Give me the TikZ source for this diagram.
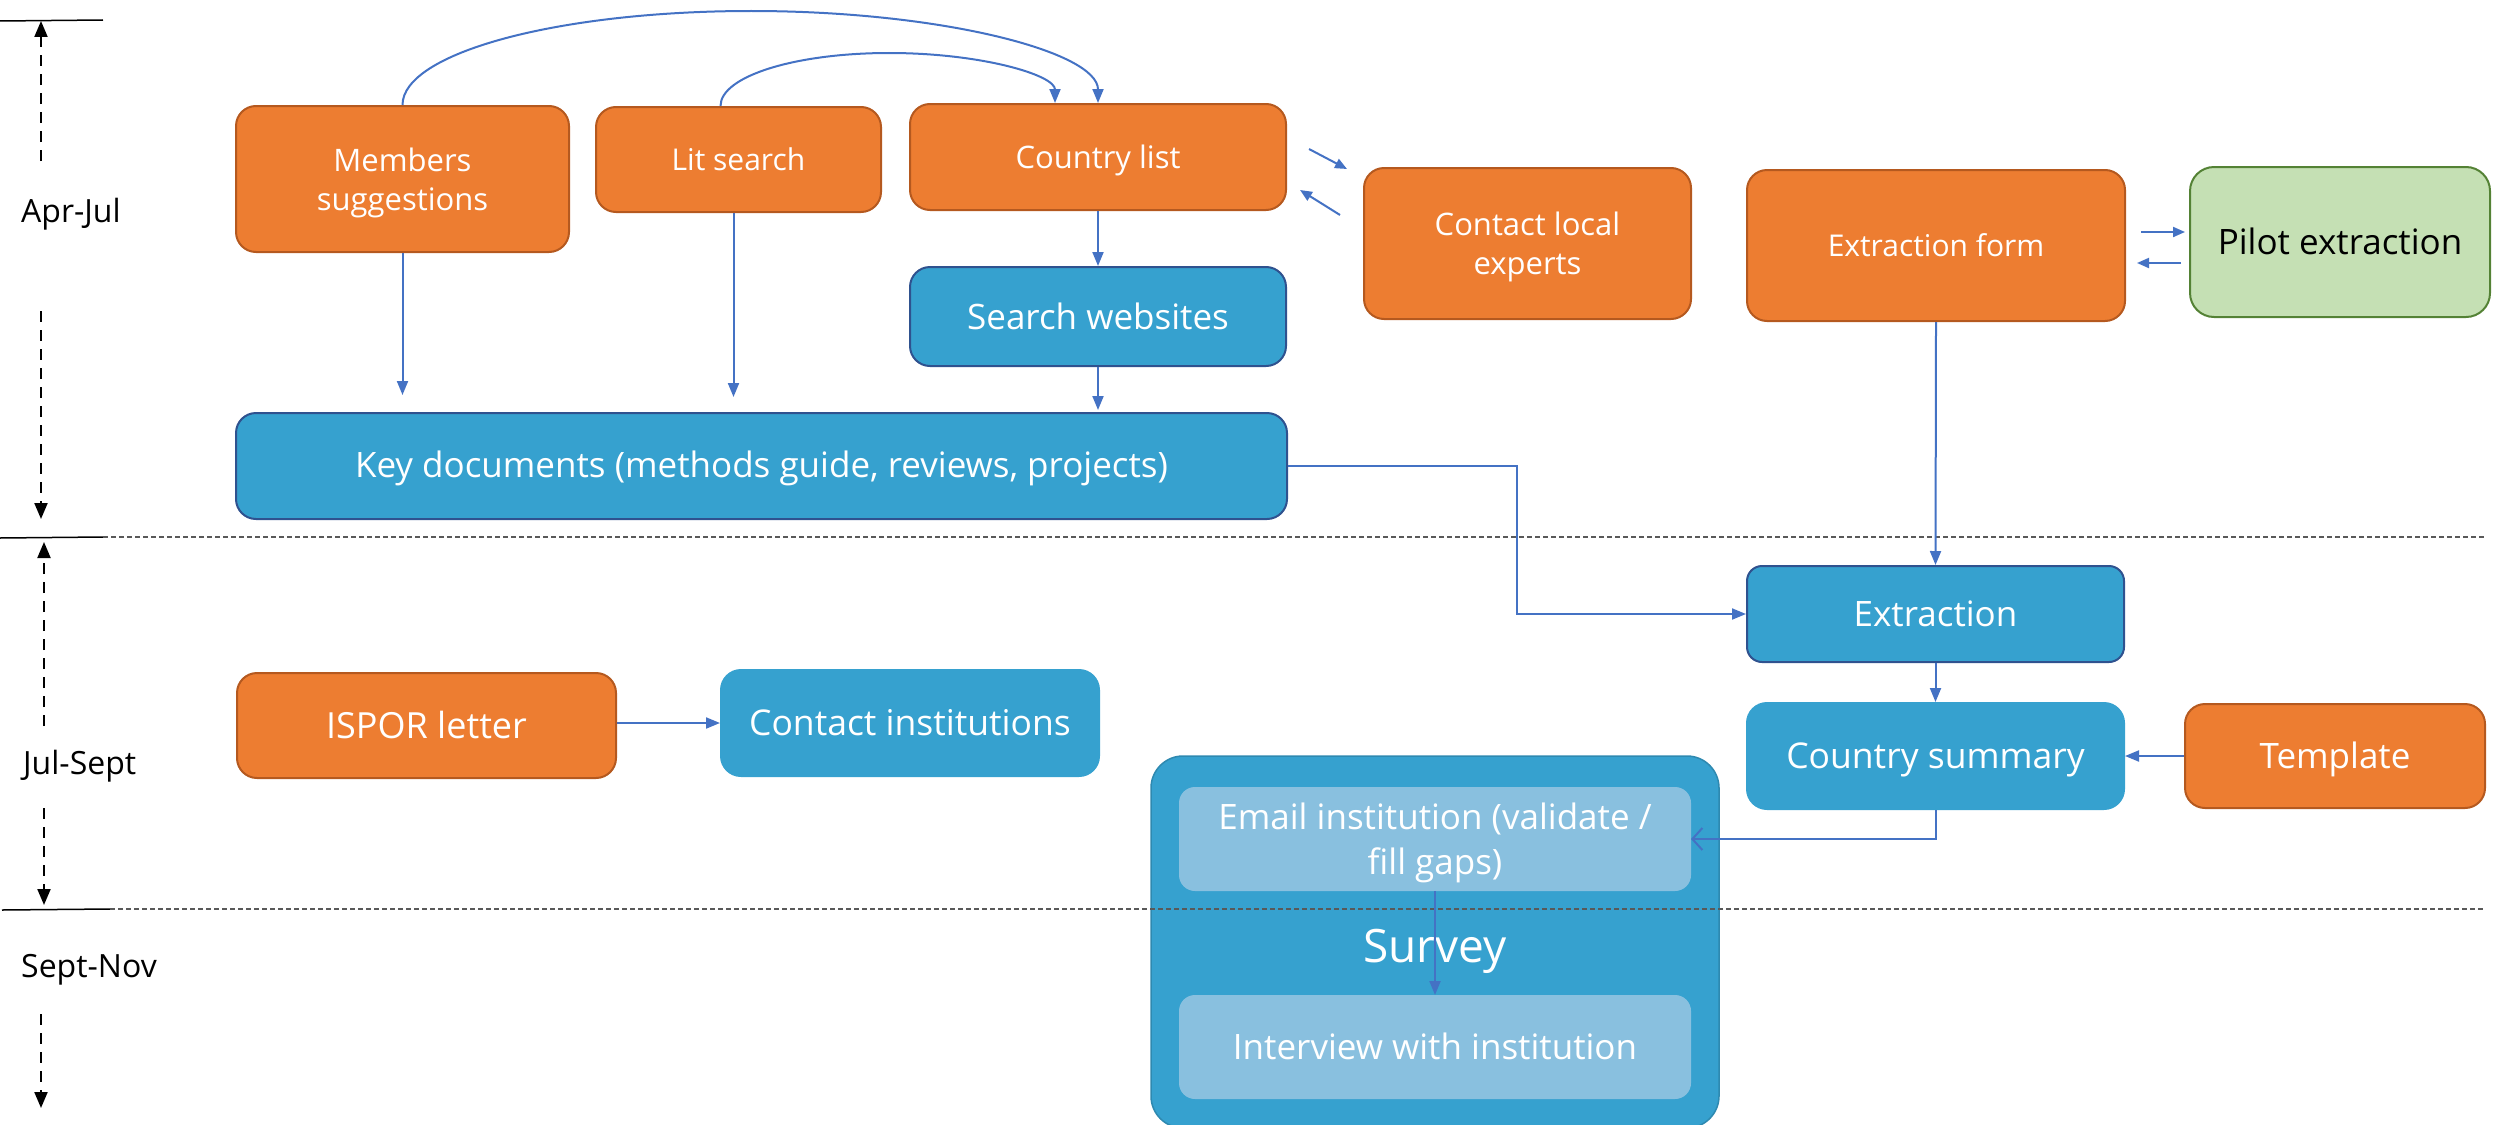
\documentclass[tikz,border=0pt]{standalone}
\usepackage{fontspec}
\setmainfont{Open Sans}
\usetikzlibrary{arrows.meta}

\definecolor{cOrange}{HTML}{ED7D31}
\definecolor{cOrangeDark}{HTML}{B5591F}
\definecolor{cBlue}{HTML}{36A1CF}
\definecolor{cBlueDark}{HTML}{2F528F}
\definecolor{cLight}{HTML}{89C0DF}
\definecolor{cGreen}{HTML}{C5E0B4}
\definecolor{cGreenDark}{HTML}{548235}
\definecolor{cConn}{HTML}{4472C4}
\definecolor{cSep}{HTML}{595959}

\newcommand{\fsz}[2]{\fontsize{#1}{#2}\selectfont}

\tikzset{
  base/.style={rectangle, rounded corners=20pt, align=center, text=white,
               inner sep=0pt, line width=2pt, text depth=0pt},
  cap/.style={text height=#1, text depth=0pt},
  orangebox/.style={base, fill=cOrange, draw=cOrangeDark},
  bluebox/.style={base, fill=cBlue, draw=cBlueDark},
  blueplain/.style={base, fill=cBlue, draw=cBlue},
  lightbox/.style={base, rounded corners=15pt, fill=cLight, draw=cLight},
  greenbox/.style={base, rounded corners=24pt, fill=cGreen, draw=cGreenDark, text=black},
  conn/.style={draw=cConn, line width=2pt, -{Triangle[length=14pt,width=11pt]}},
  shortconn/.style={draw=cConn, line width=2pt, -{Triangle[length=12pt,width=10pt]}},
  timearrow/.style={draw=black, line width=2pt, dash pattern=on 11pt off 8pt,
                    -{Triangle[length=16pt,width=13pt]}},
  sepline/.style={draw=cSep, line width=2pt, dash pattern=on 5pt off 3pt},
  period/.style={anchor=west, inner sep=0pt, font=\fsz{32}{38}},
}

\begin{document}
\begin{tikzpicture}[x=1pt,y=-1pt]
\useasboundingbox (0,0) rectangle (2496,1124);

% ---- survey container (drawn first, runs off the bottom edge) ----
\node[base, rounded corners=32pt, fill=cBlue, draw=cBlue!85!black, line width=1.5pt,
      minimum width=568pt, minimum height=372pt] (svbox) at (1435,942) {};

% ---- time periods ----
\draw[line width=1.5pt] (0,21) -- (103,20);
\draw[line width=1.5pt] (0,538) -- (103,537);
\draw[line width=1.5pt] (2,910) -- (110,909);
\draw[sepline] (103,537) -- (2484,537);
\draw[sepline] (110,909) -- (2484,909);

\node[period] (p1) at (21,214) {Apr-Jul};
\node[period] (p2) at (23,766) {Jul-Sept};
\node[period] (p3) at (21,970) {Sept-Nov};

\coordinate (t1a) at (41,161);  \coordinate (t1b) at (41,21);
\coordinate (t1c) at (41,311);  \coordinate (t1d) at (41,519);
\coordinate (t2a) at (44,726);  \coordinate (t2b) at (44,542);
\coordinate (t2c) at (44,808);  \coordinate (t2d) at (44,905);
\coordinate (t3a) at (41,1014); \coordinate (t3b) at (41,1108);
\draw[timearrow] (t1a) -- (t1b);
\draw[timearrow] (t1c) -- (t1d);
\draw[timearrow] (t2a) -- (t2b);
\draw[timearrow] (t2c) -- (t2d);
\draw[timearrow] (t3a) -- (t3b);

% ---- first period ----
\node[orangebox, minimum width=333pt, minimum height=146pt, font=\fsz{31}{39}]
  (ms) at (402.5,179) {Members\\suggestions};
\node[orangebox, cap=22pt, minimum width=285pt, minimum height=105pt, font=\fsz{30}{36}]
  (lit) at (738.5,159.5) {Lit search};
\node[orangebox, cap=22pt, minimum width=376pt, minimum height=106pt, font=\fsz{31}{38}]
  (cl) at (1098,157) {Country list};
\node[bluebox, cap=25pt, minimum width=376pt, minimum height=99pt, font=\fsz{35}{42}]
  (sw) at (1098,316.5) {Search websites};
\node[bluebox, cap=23pt, minimum width=1051pt, minimum height=106pt, font=\fsz{35}{42}]
  (kd) at (761.5,466) {Key documents (methods guide, reviews, projects)};
\node[orangebox, minimum width=327pt, minimum height=151pt, font=\fsz{31}{39}]
  (cle) at (1527.5,243.5) {Contact local\\experts};
\node[orangebox, cap=21.5pt, minimum width=378pt, minimum height=151pt, font=\fsz{30}{36}]
  (ef) at (1936,245.5) {Extraction form};
\node[greenbox, cap=25pt, minimum width=300pt, minimum height=150pt, font=\fsz{35}{42}]
  (pe) at (2340,242) {Pilot extraction};

% ---- second period ----
\node[bluebox, rounded corners=15pt, cap=25pt, minimum width=377pt, minimum height=96pt,
      font=\fsz{35}{42}]
  (ex) at (1935.5,614) {Extraction};
\node[blueplain, cap=25.5pt, minimum width=377pt, minimum height=106pt, font=\fsz{35.5}{43}]
  (cs) at (1935.5,756) {Country summary};
\node[orangebox, cap=25pt, minimum width=300pt, minimum height=104pt, font=\fsz{35}{42}]
  (tpl) at (2335,756) {Template};
\node[orangebox, cap=25.5pt, minimum width=379pt, minimum height=105pt, font=\fsz{36}{43}]
  (isp) at (426.5,725.5) {ISPOR letter};
\node[blueplain, cap=25.5pt, minimum width=378pt, minimum height=106pt, font=\fsz{35.5}{43}]
  (ci) at (910,723) {Contact institutions};

% ---- survey ----
\node[lightbox, minimum width=510pt, minimum height=102pt, font=\fsz{35}{45}]
  (em) at (1435,839) {Email institution (validate /\\fill gaps)};
\node[lightbox, cap=25pt, minimum width=510pt, minimum height=102pt, font=\fsz{35}{42}]
  (iv) at (1435,1047) {Interview with institution};
\node[text=white, inner sep=0pt, text height=33pt, text depth=0pt, font=\fsz{46}{54}]
  (svt) at (1435,946) {Survey};

% ---- connectors ----
\draw[conn, shorten >=17pt] (ms.south) -- (ms.south |- kd.north);
\draw[conn, shorten >=15pt] ([xshift=-5pt]lit.south) -- ([xshift=-5pt]lit.south |- kd.north);
\draw[conn, shorten >=2pt] (sw.south) -- (sw.south |- kd.north);
\draw[conn] (cl.south) -- (sw.north);

% arcs over the top row
\coordinate (apexA) at (751,11);
\coordinate (apexB) at (889,53);
\draw[conn] (ms.north) .. controls +(0,-52) and +(-193,0) .. (apexA)
  .. controls +(191,0) and +(0,-51) .. (cl.north);
\draw[conn] ([xshift=-18pt]lit.north) .. controls +(0,-30) and +(-93,0) .. (apexB)
  .. controls +(92,0) and +(0,-28) .. ([xshift=-43pt]cl.north);

% exchange with local experts
\coordinate (xa1) at (1309,149); \coordinate (xa2) at (1347,169);
\coordinate (xb1) at (1340,215); \coordinate (xb2) at (1300,190);
\draw[shortconn] (xa1) -- (xa2);
\draw[shortconn] (xb1) -- (xb2);

% exchange with the pilot
\coordinate (ya1) at (2141,232); \coordinate (ya2) at (2185,232);
\coordinate (yb1) at (2181,263); \coordinate (yb2) at (2137,263);
\draw[shortconn] (ya1) -- (ya2);
\draw[shortconn] (yb1) -- (yb2);

\draw[conn] (ef.south) -- (ex.north);
\draw[conn] (kd.east) -| (1517,590) |- (ex.west);
\draw[conn] (ex.south) -- (cs.north);
\draw[conn] (tpl.west) -- (cs.east);
\draw[draw=cConn, line width=2pt, -{Straight Barb[length=10pt,width=22pt]}]
  (cs.south) |- (em.east);
\draw[conn] (em.south) -- (iv.north);
\draw[conn] (isp.east |- ci.west) -- (ci.west);
\end{tikzpicture}
\end{document}
